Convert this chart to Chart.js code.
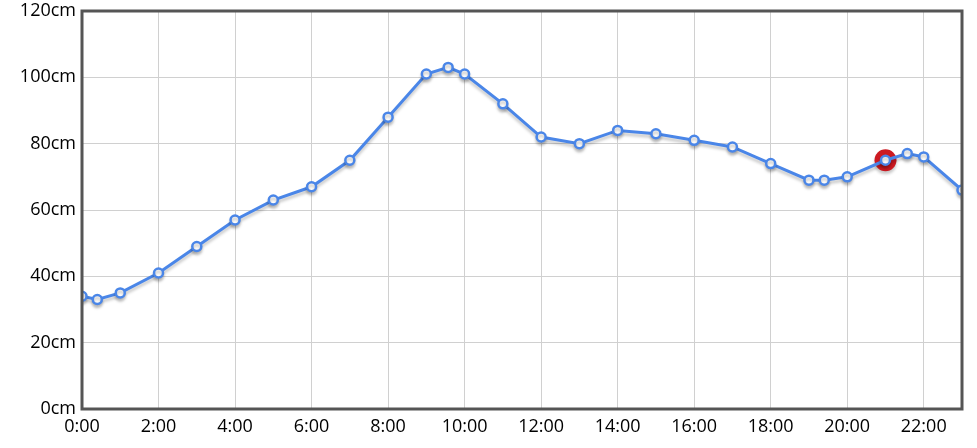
<!DOCTYPE html>
<html lang="ja">
<head>
<meta charset="UTF-8">
<title>潮位</title>
<script src="https://cdn.jsdelivr.net/npm/chart.js"></script>
<style>
  html, body { margin: 0; padding: 0; background: #fff; }
  .box { width: 977px; height: 448px; }
</style>
</head>
<body>
<div class="box"><canvas id="grafico"></canvas></div>
<script>
// hours (decimal) and level in cm
var horas = [0, 0.4, 1, 2, 3, 4, 5, 6, 7, 8, 9, 9.57, 10, 11, 12, 13, 14, 15, 16, 17, 18, 19, 19.4, 20, 21, 21.57, 22, 23];
var niveis = [34, 33, 35, 41, 49, 57, 63, 67, 75, 88, 101, 103, 101, 92, 82, 80, 84, 83, 81, 79, 74, 69, 69, 70, 75, 77, 76, 66];
var horaAtual = 21;
var nivelAtual = 75;

var pontos = [];
for (var i = 0; i < horas.length; i++) {
    pontos.push({ x: horas[i], y: niveis[i] });
}

// soft shadow under the line
var sombra = {
    id: 'sombra',
    beforeDatasetsDraw(chart) {
        var ctx = chart.ctx;
        ctx.save();
        ctx.shadowColor = 'rgba(0,0,0,0.22)';
        ctx.shadowOffsetY = 3;
        ctx.shadowBlur = 3;
    },
    afterDatasetsDraw(chart) {
        chart.ctx.restore();
    }
};

// dark frame round the plot area
var moldura = {
    id: 'moldura',
    afterDraw(chart) {
        var a = chart.chartArea;
        var ctx = chart.ctx;
        ctx.save();
        ctx.strokeStyle = '#555';
        ctx.lineWidth = 3;
        ctx.strokeRect(a.left, a.top, a.right - a.left, a.bottom - a.top);
        ctx.restore();
    }
};

const ctx = document.getElementById('grafico').getContext('2d');
new Chart(ctx, {
    type: 'line',
    data: {
        datasets: [{
            data: pontos,
            borderColor: '#4a86e8',
            borderWidth: 3,
            pointRadius: 4.5,
            pointBorderWidth: 2.5,
            pointBackgroundColor: '#fff',
            pointBorderColor: '#4a86e8',
            tension: 0,
            order: 0
        }, {
            data: [{ x: horaAtual, y: nivelAtual }],
            showLine: false,
            pointRadius: 11,
            pointBorderWidth: 0,
            pointBackgroundColor: '#cc1a22',
            order: 1
        }]
    },
    options: {
        responsive: true,
        maintainAspectRatio: false,
        animation: false,
        layout: { padding: { left: 0, right: 15, top: 0, bottom: 0 } },
        plugins: {
            legend: { display: false },
            tooltip: { enabled: false }
        },
        scales: {
            x: {
                type: 'linear',
                min: 0,
                max: 23,
                afterFit(s) { s.height = 39; },
                border: { display: false },
                grid: { color: '#d0d0d0', drawTicks: false },
                ticks: {
                    stepSize: 2,
                    includeBounds: false,
                    maxRotation: 0,
                    padding: 7,
                    color: '#000',
                    font: { family: 'Open Sans', size: 18 },
                    callback: v => v + ':00'
                }
            },
            y: {
                min: 0,
                max: 120,
                afterFit(s) { s.width = 82; s.paddingTop = 11; s.paddingBottom = 0; },
                border: { display: false },
                grid: { color: '#d0d0d0', drawTicks: false },
                ticks: {
                    stepSize: 20,
                    padding: 6,
                    color: '#000',
                    font: { family: 'Open Sans', size: 18 },
                    callback: v => v + 'cm'
                }
            }
        }
    },
    plugins: [sombra, moldura]
});
</script>
</body>
</html>
